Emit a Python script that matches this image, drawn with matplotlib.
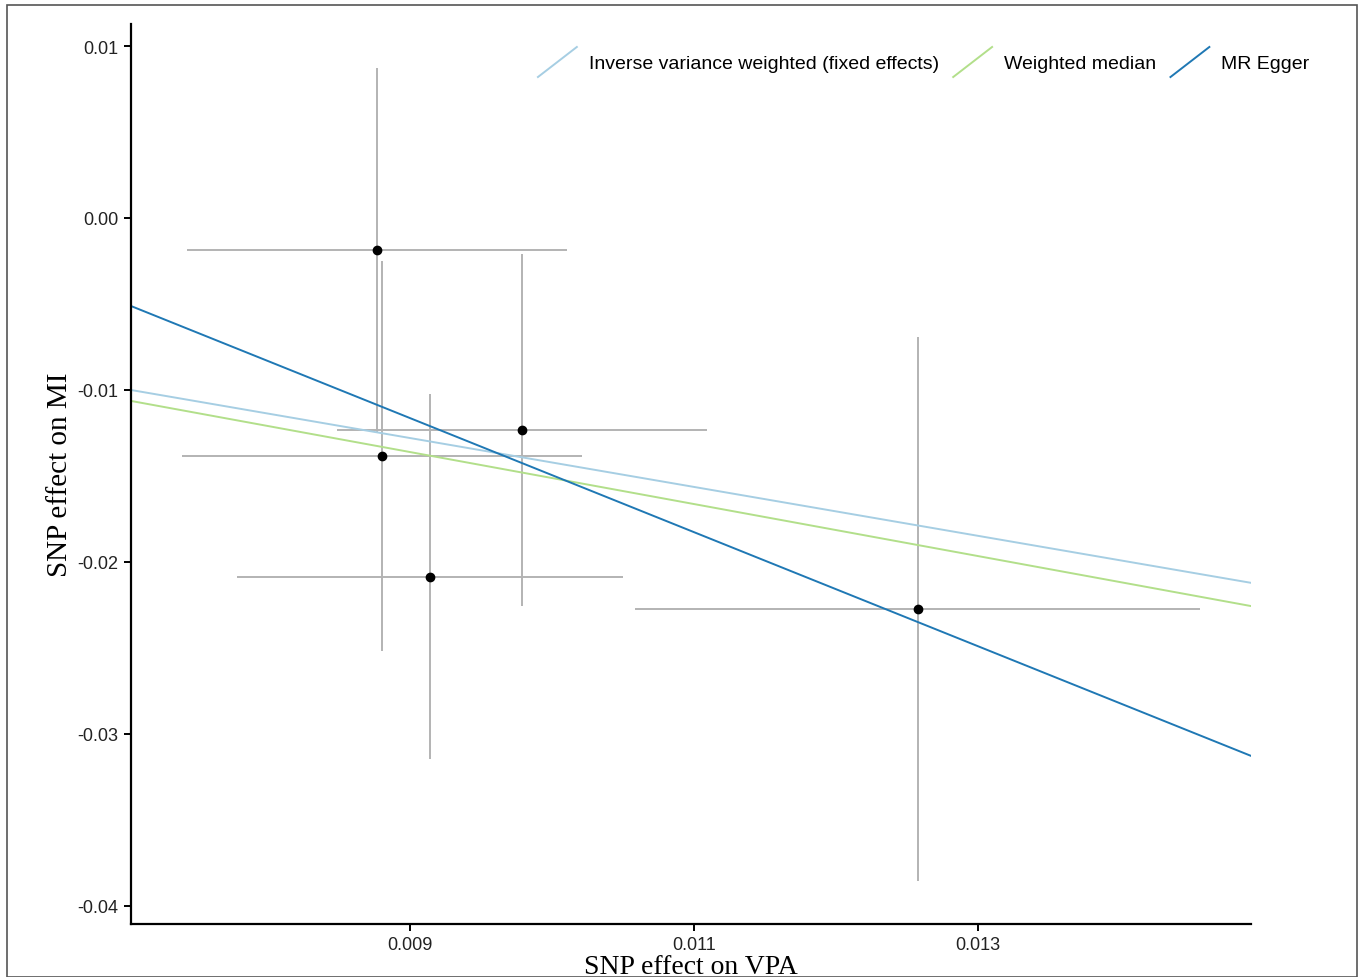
import numpy as np
import matplotlib
matplotlib.use("Agg")
import matplotlib.pyplot as plt
from matplotlib.lines import Line2D
from matplotlib.patches import Rectangle
from matplotlib.legend_handler import HandlerBase

# SNP effects (exposure = VPA, outcome = MI) and standard errors
beta_vpa = [0.008768, 0.008803, 0.009141, 0.009789, 0.012577]
se_vpa = [0.001338, 0.001408, 0.001359, 0.001306, 0.001989]
beta_mi = [-0.00186, -0.01384, -0.02087, -0.01233, -0.02273]
se_mi = [0.01058, 0.01134, 0.01061, 0.01023, 0.01581]

# MR estimates : (intercept, slope)
methods = ["Inverse variance weighted (fixed effects)", "Weighted median", "MR Egger"]
intercepts = [0.0, 0.0, 0.01821]
slopes = [-1.4215, -1.512, -3.316]
couleurs = ["#a6cee3", "#b2df8a", "#1f78b4"]

xticks = [0.009, 0.011, 0.013]
xtick_labels = ["0.009", "0.011", "0.013"]
yticks = [0.01, 0.00, -0.01, -0.02, -0.03, -0.04]
ytick_labels = ["0.01", "0.00", "-0.01", "-0.02", "-0.03", "-0.04"]


class HandlerDiag(HandlerBase):
    # cle de legende en diagonale (comme geom_abline)
    def create_artists(self, legend, orig_handle, xdescent, ydescent,
                       width, height, fontsize, trans):
        l = Line2D([-xdescent, -xdescent + width], [-ydescent, -ydescent + height],
                   color=orig_handle.get_color(), lw=orig_handle.get_linewidth())
        l.set_transform(trans)
        return [l]


fig = plt.figure(figsize=(13.63, 9.78), dpi=100)
ax = fig.add_axes([131/1363, 1 - 925/978, (1251-131)/1363, (925-25)/978])

ax.errorbar(beta_vpa, beta_mi, xerr=se_vpa, yerr=se_mi, fmt="none",
            ecolor="#b3b3b3", elinewidth=1.4, capsize=0, zorder=1)
ax.scatter(beta_vpa, beta_mi, s=36, color="black", zorder=3)

handles = []
for i in range(3):
    ax.axline((0, intercepts[i]), slope=slopes[i], color=couleurs[i], lw=1.4, zorder=2)
    handles.append(Line2D([], [], color=couleurs[i], lw=1.4))

ax.set_xlim(0.007035, 0.014923)
ax.set_ylim(-0.04105, 0.01128)
ax.set_xticks(xticks)
ax.set_xticklabels(xtick_labels)
ax.set_yticks(yticks)
ax.set_yticklabels(ytick_labels)

for s in ["top", "right"]:
    ax.spines[s].set_visible(False)
for s in ["left", "bottom"]:
    ax.spines[s].set_linewidth(1.6)
ax.tick_params(direction="out", length=5, width=1.4, labelsize=13, pad=4)
for lab in ax.get_xticklabels() + ax.get_yticklabels():
    lab.set_family("Liberation Sans")
    lab.set_color("#222222")

ax.set_xlabel("SNP effect on VPA", family="Liberation Serif", fontsize=20, va="center")
ax.xaxis.set_label_coords(0.5, -0.0475)
ax.set_ylabel("SNP effect on MI", family="Liberation Serif", fontsize=21, va="center")
ax.yaxis.set_label_coords(-0.0634, 0.5)

leg = fig.legend(handles, methods, handler_map={Line2D: HandlerDiag()},
                 loc="center right", bbox_to_anchor=(1319/1363, 1 - 63/978),
                 ncol=3, frameon=False, handlelength=2.0, handleheight=2.0,
                 handletextpad=0.6, columnspacing=0.75, borderpad=0,
                 prop={"family": "Liberation Sans", "size": 14})

# cadre exterieur
fig.patches.append(Rectangle((7/1363, 0), 1350/1363, 1 - 6/978, transform=fig.transFigure,
                             fill=False, edgecolor="#555555", lw=1.2))

fig.savefig("out.png", dpi=100)
